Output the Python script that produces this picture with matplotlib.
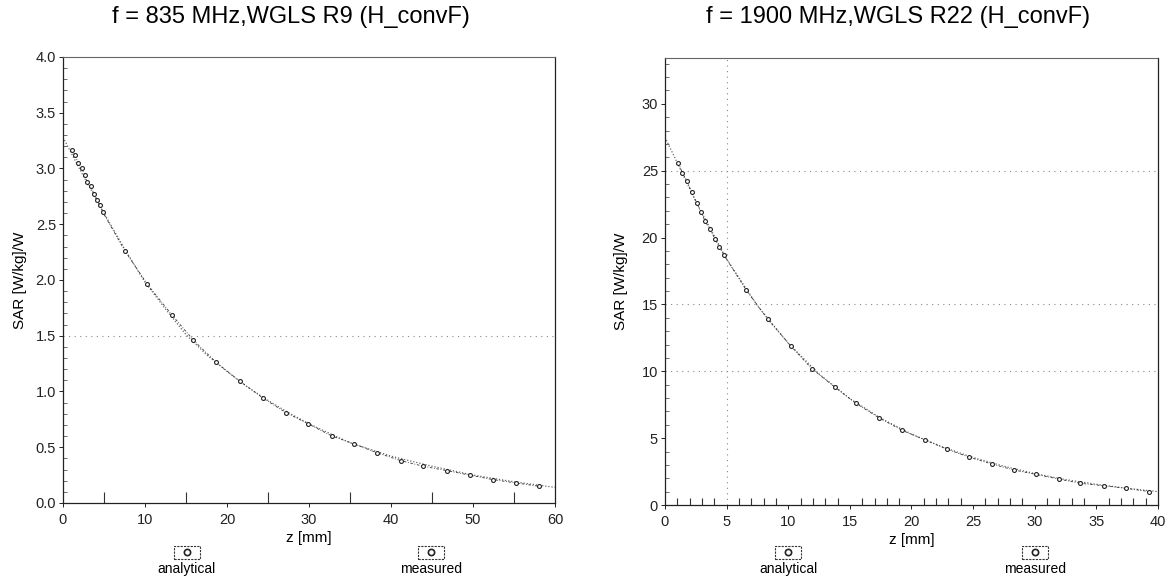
import matplotlib
matplotlib.use("Agg")
import matplotlib.pyplot as plt
from matplotlib.patches import Rectangle
from matplotlib.lines import Line2D
from matplotlib.ticker import MultipleLocator

plt.rcParams['font.family'] = ['Liberation Sans', 'DejaVu Sans']

# ---- data: 835 MHz ----
z_meas_835 = [1.06, 1.46, 1.87, 2.28, 2.68, 2.97, 3.41, 3.78, 4.18, 4.5, 4.84, 7.56, 10.3, 13.25,
              15.9, 18.7, 21.6, 24.4, 27.2, 29.9, 32.8, 35.5, 38.3, 41.2, 43.9, 46.8, 49.6, 52.4, 55.2, 58.0]
sar_meas_835 = [3.17, 3.12, 3.05, 3.0, 2.94, 2.88, 2.84, 2.77, 2.72, 2.67, 2.61, 2.26, 1.96, 1.69,
                1.46, 1.26, 1.09, 0.94, 0.81, 0.71, 0.60, 0.53, 0.45, 0.38, 0.33, 0.29, 0.25, 0.21, 0.18, 0.15]
z_ana_835 = [0, 2.5, 5, 7.5, 10, 12.5, 15, 17.5, 20, 22.5, 25, 27.5, 30, 35, 40, 45, 50, 55, 60]
sar_ana_835 = [3.28, 2.93, 2.60, 2.28, 1.98, 1.74, 1.51, 1.33, 1.18, 1.04, 0.92, 0.81, 0.71,
               0.54, 0.42, 0.33, 0.25, 0.19, 0.14]

# ---- data: 1900 MHz ----
z_meas_1900 = [1.08, 1.4, 1.8, 2.16, 2.57, 2.92, 3.27, 3.65, 4.06, 4.4, 4.78, 6.57, 8.33, 10.2, 11.9,
               13.8, 15.5, 17.4, 19.2, 21.1, 22.9, 24.7, 26.5, 28.3, 30.1, 31.95, 33.7, 35.6, 37.4, 39.3]
sar_meas_1900 = [25.6, 24.85, 24.2, 23.4, 22.6, 21.9, 21.2, 20.6, 19.9, 19.3, 18.7, 16.1, 13.9, 11.9, 10.2,
                 8.8, 7.6, 6.5, 5.6, 4.86, 4.17, 3.57, 3.07, 2.62, 2.29, 1.94, 1.62, 1.44, 1.25, 1.0]
z_ana_1900 = [0, 2.5, 5, 7.5, 10, 12.5, 15, 17.5, 20, 22.5, 25, 27.5, 30, 32.5, 35, 37.5, 40]
sar_ana_1900 = [27.5, 22.7, 18.4, 14.9, 12.1, 9.8, 7.95, 6.5, 5.3, 4.35, 3.55, 2.9, 2.35, 1.9, 1.55, 1.25, 1.0]

titles = ["f = 835 MHz,WGLS R9 (H_convF)", "f = 1900 MHz,WGLS R22 (H_convF)"]
xlabel = "z [mm]"
ylabel = "SAR [W/kg]/W"
legend_labels = ["analytical", "measured"]

fig = plt.figure(figsize=(11.73, 5.81), dpi=100)
ax1 = fig.add_axes([0.0537, 0.1343, 0.4194, 0.7676])
ax2 = fig.add_axes([0.5669, 0.1308, 0.4203, 0.7689])

def style(ax, xmax, ymax, xmaj, xmin, ymaj, ymin, fmt):
    ax.set_xlim(0, xmax)
    ax.set_ylim(0, ymax)
    ax.xaxis.set_major_locator(MultipleLocator(xmaj))
    ax.xaxis.set_minor_locator(MultipleLocator(xmin))
    ax.yaxis.set_major_locator(MultipleLocator(ymaj))
    ax.yaxis.set_minor_locator(MultipleLocator(ymin))
    if fmt:
        ax.yaxis.set_major_formatter(fmt)
    ax.tick_params(axis='both', which='major', direction='out', length=3, width=0.7,
                   labelsize=10.5, colors='#222222', pad=2)
    ax.tick_params(axis='x', which='major', pad=4)
    ax.tick_params(axis='x', which='minor', direction='in', length=8, width=0.8, color='#333333')
    ax.tick_params(axis='y', which='minor', direction='in', length=3, width=0.6, color='#555555')
    for s in ['left', 'bottom', 'right']:
        ax.spines[s].set_linewidth(0.9)
        ax.spines[s].set_color('#222222')
    ax.spines['top'].set_linestyle((0, (2, 1)))
    ax.spines['top'].set_color('#666666')
    ax.spines['top'].set_linewidth(0.8)
    ax.set_xlabel(xlabel, fontsize=11, labelpad=3)
    ax.set_ylabel(ylabel, fontsize=11, labelpad=6)

style(ax1, 60, 4.0, 10, 5, 0.5, 0.1, matplotlib.ticker.FormatStrFormatter('%.1f'))
style(ax2, 40, 33.4, 5, 1, 5, 1, None)
ax2.tick_params(axis='x', which='minor', length=5)
ax2.set_ylabel(ylabel, fontsize=11, labelpad=10)

# faint dotted grid lines visible in the scan
ax1.axhline(1.5, color='#888888', lw=0.8, ls=(0, (1, 4)), zorder=0)
for yv in [10, 15, 25]:
    ax2.axhline(yv, color='#888888', lw=0.8, ls=(0, (1, 4)), zorder=0)
ax2.axvline(5, color='#888888', lw=0.8, ls=(0, (1, 4)), zorder=0)

for ax, za, sa, zm, sm in [(ax1, z_ana_835, sar_ana_835, z_meas_835, sar_meas_835),
                           (ax2, z_ana_1900, sar_ana_1900, z_meas_1900, sar_meas_1900)]:
    ax.plot(za, sa, color='#666666', lw=0.9, ls=(0, (1, 1.5)), zorder=2)
    ax.plot(zm, sm, color='#333333', lw=0.6, ls=(0, (3, 2, 1, 2)), marker='o', markersize=2.8,
            markerfacecolor='white', markeredgecolor='#222222', markeredgewidth=0.8, zorder=3)

# titles
fig.text(291 / 1173, 1 - 17 / 581, titles[0], ha='center', va='center', fontsize=17)
fig.text(898 / 1173, 1 - 17 / 581, titles[1], ha='center', va='center', fontsize=17)

# legend keys below each axes
def key(xc, label):
    w, h = 26 / 1173, 13 / 581
    yc = 1 - 552 / 581
    fig.add_artist(Rectangle((xc - w / 2, yc - h / 2), w, h, transform=fig.transFigure,
                             fill=False, lw=0.8, ec='#333333', ls=(0, (2, 1))))
    fig.add_artist(Line2D([xc], [yc], transform=fig.transFigure, marker='o', markersize=4.5,
                          markerfacecolor='white', markeredgecolor='#222222', markeredgewidth=1.2))
    fig.text(xc, 1 - 569 / 581, label, ha='center', va='center', fontsize=10)

key(187 / 1173, legend_labels[0])
key(431 / 1173, legend_labels[1])
key(788 / 1173, legend_labels[0])
key(1035 / 1173, legend_labels[1])

fig.savefig("out.png", dpi=100)
